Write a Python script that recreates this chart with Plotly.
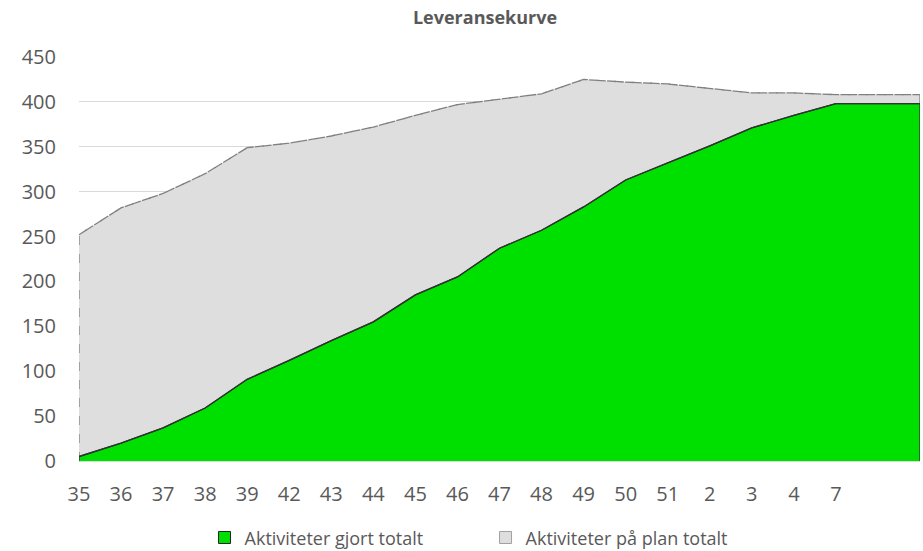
import plotly.graph_objects as go

weeks = ["35", "36", "37", "38", "39", "42", "43", "44", "45", "46", "47", "48",
         "49", "50", "51", "2", "3", "4", "7", "", ""]
done_total = [5, 20, 37, 59, 91, 112, 134, 155, 185, 205, 237, 257,
              283, 313, 332, 351, 371, 385, 398, 398, 398]
plan_total = [252, 282, 298, 320, 349, 354, 362, 372, 385, 397, 403, 409,
              425, 422, 420, 415, 410, 410, 408, 408, 408]

idx = list(range(len(weeks)))
FONT = "'Open Sans', sans-serif"
GREY_TXT = "#595959"
GREEN = "#00e000"
GREEN_LINE = "#333333"
PLAN_FILL = "#dedede"
PLAN_LINE = "#808080"

fig = go.Figure()

# planned area (behind)
fig.add_trace(go.Scatter(
    x=idx, y=plan_total, mode="lines", fill="tozeroy",
    fillcolor=PLAN_FILL, line=dict(color=PLAN_LINE, width=1.3, dash="dash"),
    showlegend=False, hoverinfo="skip"))
fig.add_trace(go.Scatter(
    x=[idx[0]] + idx + [idx[-1]], y=[0] + plan_total + [0], mode="lines",
    line=dict(color=PLAN_LINE, width=1.3, dash="dash"),
    showlegend=False, hoverinfo="skip"))

# done area (front)
fig.add_trace(go.Scatter(
    x=idx, y=done_total, mode="lines", fill="tozeroy",
    fillcolor=GREEN, line=dict(color=GREEN_LINE, width=1.3),
    showlegend=False, hoverinfo="skip"))
fig.add_trace(go.Scatter(
    x=[idx[0]] + idx + [idx[-1]], y=[0] + done_total + [0], mode="lines",
    line=dict(color=GREEN_LINE, width=1.3),
    showlegend=False, hoverinfo="skip"))

# legend swatches (square markers like the original)
fig.add_trace(go.Bar(x=[None], y=[None], name="Aktiviteter gjort totalt",
                     marker=dict(color=GREEN, line=dict(color="#222222", width=1))))
fig.add_trace(go.Bar(x=[None], y=[None], name="Aktiviteter på plan totalt",
                     marker=dict(color=PLAN_FILL, line=dict(color="#a0a0a0", width=1))))

fig.update_layout(
    width=923, height=551,
    margin=dict(l=79, r=3, t=57, b=90),
    paper_bgcolor="white", plot_bgcolor="white",
    font=dict(family=FONT, size=20, color=GREY_TXT),
    title=dict(text="<b>Leveransekurve</b>", x=0.5255, xref="container",
               xanchor="center", y=0.968, yanchor="middle",
               font=dict(family=FONT, size=18, color=GREY_TXT)),
    showlegend=True,
    legend=dict(orientation="h", x=0.4834, xanchor="center",
                yref="container", y=0.024, yanchor="middle",
                font=dict(size=18, color=GREY_TXT),
                entrywidth=236, itemwidth=30, borderwidth=0),
)

fig.update_xaxes(
    range=[0, len(weeks) - 1], tickmode="array", tickvals=idx, ticktext=weeks,
    showgrid=False, zeroline=False, showline=True, linecolor="#d9d9d9",
    ticks="", ticklabelstandoff=15, automargin=False,
    tickfont=dict(size=20, color=GREY_TXT))
fig.update_yaxes(
    range=[0, 450], dtick=50, showgrid=True, gridcolor="#d9d9d9",
    zeroline=False, showline=False, ticks="", ticklabelstandoff=22,
    automargin=False, tickfont=dict(size=20, color=GREY_TXT))

fig.write_html("out.html", config={"displayModeBar": False},
               post_script="document.body.style.margin='0';document.body.style.overflow='hidden';")
